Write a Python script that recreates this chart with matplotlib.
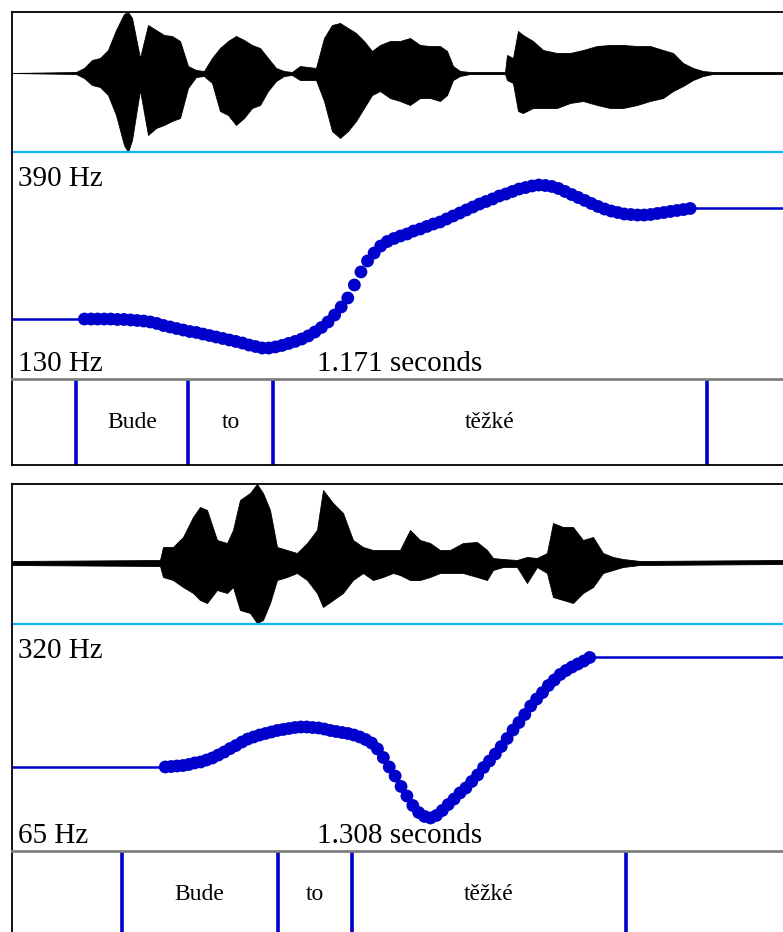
import numpy as np
import matplotlib.pyplot as plt

plt.rcParams['font.family'] = ['Liberation Serif', 'DejaVu Serif']

# ---- panel 1 : "Bude to těžké" (rising) ----
dur1 = 1.171
words1 = ['Bude', 'to', 'těžké']
bounds1 = [0.0972, 0.2673, 0.3964, 1.0556]
f0_lo1, f0_hi1 = 130, 390
f0_start1 = 0.11
f0_1 = [198.7, 198.7, 198.7, 198.7, 198.7, 198.2, 198.2, 197.6, 197.0, 196.4,
        195.3, 193.6, 191.3, 189.6, 187.8, 186.1, 184.4, 183.3, 181.5, 179.8,
        178.1, 176.4, 174.7, 173.0, 171.2, 168.9, 167.2, 165.5, 165.5, 166.7,
        168.4, 170.7, 173.0, 175.8, 179.3, 183.8, 189.0, 195.3, 203.3, 212.5,
        222.8, 237.7, 252.6, 265.2, 274.3, 282.3, 287.5, 290.9, 293.8, 296.1,
        299.5, 301.8, 304.7, 307.5, 309.8, 313.3, 316.7, 320.1, 323.6, 327.0,
        330.4, 333.3, 336.2, 339.6, 341.9, 344.8, 347.6, 349.3, 351.1, 352.2,
        351.6, 350.5, 348.2, 344.8, 341.3, 337.9, 334.5, 331.0, 327.6, 324.7,
        322.4, 320.7, 319.0, 318.4, 317.8, 317.8, 318.4, 319.6, 320.7, 321.9,
        323.0, 324.1, 325.3]
env_t1 = [0, 0.0972, 0.1094, 0.1215, 0.1337, 0.1458, 0.1580, 0.1701, 0.1762, 0.1823,
          0.1944, 0.2066, 0.2187, 0.2309, 0.2430, 0.2552, 0.2673, 0.2795, 0.2916, 0.3038,
          0.3159, 0.3281, 0.3402, 0.3524, 0.3645, 0.3767, 0.3888, 0.4010, 0.4131, 0.4253,
          0.4374, 0.4617, 0.4739, 0.4860, 0.4982, 0.5103, 0.5225, 0.5346, 0.5468, 0.5589,
          0.5741, 0.5893, 0.6045, 0.6197, 0.6349, 0.6501, 0.6607, 0.6698, 0.6804, 0.6956,
          0.7488, 0.7518, 0.7609, 0.7685, 0.7761, 0.7913, 0.8065, 0.8278, 0.8475, 0.8673,
          0.8885, 0.9083, 0.9280, 0.9493, 0.9690, 0.9888, 1.0040, 1.0192, 1.0343, 1.0495,
          1.0647, 1.171]
env_up1 = [0, 1, 5, 13, 15, 23, 43, 59, 61, 55,
           15, 48, 43, 38, 37, 32, 7, 3, 2, 15,
           25, 32, 37, 33, 28, 25, 15, 5, 2, 1,
           7, 5, 35, 48, 50, 45, 40, 32, 22, 28,
           32, 32, 35, 28, 27, 27, 22, 7, 2, 1,
           1, 18, 15, 42, 38, 32, 23, 20, 20, 23,
           27, 28, 28, 27, 27, 23, 20, 10, 5, 2,
           1, 1]
env_low1 = [0, -1, -5, -12, -14, -22, -42, -72, -79, -67,
            -17, -62, -55, -52, -48, -45, -15, -4, -3, -10,
            -38, -42, -52, -45, -35, -32, -18, -8, -3, -2,
            -7, -7, -28, -58, -65, -58, -48, -35, -22, -18,
            -25, -28, -32, -25, -25, -28, -22, -7, -3, -1,
            -1, -7, -10, -38, -40, -35, -35, -35, -30, -28,
            -32, -35, -35, -32, -28, -25, -18, -13, -7, -3,
            -1, -1]

# ---- panel 2 : "Bude to těžké" (question) ----
dur2 = 1.308
words2 = ['Bude', 'to', 'těžké']
bounds2 = [0.1858, 0.4513, 0.5760, 1.0417]
f0_lo2, f0_hi2 = 65, 320
f0_start2 = 0.26
f0_2 = [159.4, 159.9, 160.5, 161.0, 162.2, 163.9, 165.0, 167.2, 169.5, 172.8,
        176.2, 180.1, 183.5, 187.4, 190.8, 193.1, 195.3, 197.0, 198.7, 200.4,
        201.5, 202.6, 203.7, 204.3, 204.3, 203.7, 203.2, 202.0, 200.4, 199.2,
        198.1, 197.0, 195.3, 193.1, 190.2, 186.3, 179.6, 170.0, 159.4, 149.2,
        137.5, 126.8, 116.1, 108.2, 103.8, 102.1, 104.9, 110.5, 117.2, 123.4,
        130.2, 135.8, 143.1, 150.4, 158.8, 166.1, 174.0, 182.4, 191.4, 200.9,
        209.3, 218.3, 227.9, 235.7, 243.0, 250.9, 257.1, 263.3, 267.8, 271.7,
        275.1, 278.4, 282.4]
env_t2 = [0, 0.2511, 0.2562, 0.2731, 0.2901, 0.3071, 0.3189, 0.3308, 0.3478, 0.3648,
          0.3749, 0.3868, 0.4038, 0.4156, 0.4258, 0.4377, 0.4496, 0.4665, 0.4835, 0.5005,
          0.5174, 0.5276, 0.5446, 0.5615, 0.5785, 0.5955, 0.6124, 0.6294, 0.6464, 0.6582,
          0.6752, 0.6922, 0.7091, 0.7261, 0.7431, 0.7651, 0.7889, 0.8058, 0.8160, 0.8330,
          0.8567, 0.8737, 0.8907, 0.9076, 0.9178, 0.9348, 0.9517, 0.9687, 0.9857, 1.0026,
          1.0196, 1.0365, 1.0654, 1.308]
env_up2 = [2, 3, 16, 16, 26, 46, 56, 53, 23, 20,
           33, 63, 70, 79, 70, 53, 16, 13, 10, 20,
           33, 73, 60, 50, 23, 16, 13, 13, 13, 13,
           33, 23, 20, 13, 13, 20, 21, 13, 5, 4,
           3, 6, 5, 10, 40, 36, 36, 23, 26, 10,
           6, 4, 2, 3]
env_low2 = [-2, -3, -14, -17, -24, -30, -37, -40, -27, -30,
            -24, -47, -50, -60, -57, -40, -17, -14, -10, -17,
            -30, -44, -37, -30, -17, -10, -17, -14, -10, -12,
            -17, -17, -14, -10, -10, -10, -14, -17, -7, -4,
            -4, -20, -4, -10, -34, -37, -40, -30, -24, -10,
            -7, -4, -2, -1]

BLUE = '#0000cc'
CYAN = '#12b4ec'
W, H = 783, 932


def px_axes(fig, top, height):
    # axes placed in pixel units of the figure, transparent so spines are not covered
    ax = fig.add_axes([12 / W, 1 - (top + height) / H, (W - 12) / W, height / H])
    ax.set_facecolor('none')
    ax.set_xticks([])
    ax.set_yticks([])
    ax.spines['right'].set_visible(False)
    for s in ax.spines.values():
        s.set_linewidth(1.3)
    return ax


def draw_panel(fig, top, dur, words, bounds, lo, hi, f0_start, f0, env_t, env_up, env_low, wlim):
    # waveform
    ax = px_axes(fig, top, 140)
    ax.axhline(0, color=CYAN, lw=0.8, ls=(0, (3, 3)), zorder=1)
    ax.fill_between(env_t, env_low, env_up, color='black', lw=0.6, zorder=2)
    ax.set_xlim(0, dur)
    ax.set_ylim(*wlim)
    ax.spines['bottom'].set_color(CYAN)
    ax.spines['bottom'].set_linewidth(1.6)
    ax.spines['bottom'].set_zorder(5)

    # pitch
    ax = px_axes(fig, top + 140, 227)
    t = f0_start + 0.01 * np.arange(len(f0))
    ax.plot([0, t[0]], [f0[0], f0[0]], color=BLUE, lw=1.8)
    ax.plot([t[-1], dur], [f0[-1], f0[-1]], color=BLUE, lw=1.8)
    ax.scatter(t, f0, s=85, color=BLUE, edgecolors='none', zorder=3)
    ax.set_xlim(0, dur)
    ax.set_ylim(lo, hi)
    ax.spines['top'].set_visible(False)
    ax.spines['bottom'].set_visible(False)
    ax.text(0.008, 0.85, f'{hi} Hz', transform=ax.transAxes, fontsize=21, va='baseline')
    ax.text(0.008, 0.035, f'{lo} Hz', transform=ax.transAxes, fontsize=21, va='baseline')
    ax.text(0.503, 0.035, f'{dur:.3f} seconds', transform=ax.transAxes, fontsize=21,
            va='baseline', ha='center')

    # text tier
    ax = px_axes(fig, top + 367, 86)
    for b in bounds:
        ax.axvline(b, color=BLUE, lw=2.6)
    for i, w in enumerate(words):
        ax.text((bounds[i] + bounds[i + 1]) / 2, 0.5, w, fontsize=17, ha='center', va='center')
    ax.set_xlim(0, dur)
    ax.set_ylim(0, 1)
    ax.spines['top'].set_color('#7f7f7f')
    ax.spines['top'].set_linewidth(2)


fig = plt.figure(figsize=(W / 100, H / 100), dpi=100)
draw_panel(fig, 12, dur1, words1, bounds1, f0_lo1, f0_hi1, f0_start1, f0_1,
           env_t1, env_up1, env_low1, (-79, 61))
draw_panel(fig, 484, dur2, words2, bounds2, f0_lo2, f0_hi2, f0_start2, f0_2,
           env_t2, env_up2, env_low2, (-61, 79))
fig.savefig('out.png', dpi=100)
